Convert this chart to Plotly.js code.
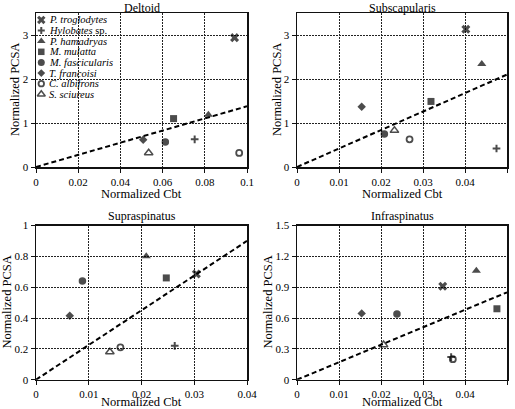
<!DOCTYPE html>
<html>
<head>
<meta charset="utf-8">
<script src="https://cdn.plot.ly/plotly-3.0.1.min.js"></script>
<style>html,body{margin:0;padding:0;background:#fff;}#chart{width:515px;height:409px;}</style>
</head>
<body>
<div id="chart"></div>
<script>
// Species order (same in every panel)
const species = ['P. troglodytes', 'Hylobates sp.', 'P. hamadryas', 'M. mulatta',
                 'M. fascicularis', 'T. francoisi', 'C. albifrons', 'S. sciureus'];
const legendLabels = ['<i>P. troglodytes</i>', '<i>Hylobates</i> sp.', '<i>P. hamadryas</i>', '<i>M. mulatta</i>',
                      '<i>M. fascicularis</i>', '<i>T. francoisi</i>', '<i>C. albifrons</i>', '<i>S. sciureus</i>'];

// Panel titles and axis titles
const panelTitles = ['Deltoid', 'Subscapularis', 'Supraspinatus', 'Infraspinatus'];
const xTitle = 'Normalized Cbt';
const yTitle = 'Normalized PCSA';

// Deltoid
const deltoidCbt  = [0.0941, 0.0752, 0.0817, 0.0652, 0.0613, 0.0508, 0.0963, 0.0534];
const deltoidPCSA = [2.94, 0.63, 1.19, 1.10, 0.57, 0.62, 0.32, 0.32];
const deltoidFitX = [0, 0.1];
const deltoidFitY = [0, 1.38];

// Subscapularis
const subscapCbt  = [0.0402, 0.0475, 0.0440, 0.0319, 0.0208, 0.0154, 0.0268, 0.0232];
const subscapPCSA = [3.13, 0.42, 2.34, 1.49, 0.75, 1.37, 0.63, 0.83];
const subscapFitX = [0, 0.05];
const subscapFitY = [0, 2.10];

// Supraspinatus
const supraCbt  = [0.0304, 0.0263, 0.0209, 0.0247, 0.0088, 0.0064, 0.0160, 0.0140];
const supraPCSA = [0.685, 0.22, 0.80, 0.66, 0.64, 0.415, 0.21, 0.18];
const supraFitX = [0, 0.04];
const supraFitY = [0, 0.90];

// Infraspinatus
const infraCbt  = [0.0347, 0.0367, 0.0427, 0.0476, 0.0238, 0.0154, 0.0371, 0.0206];
const infraPCSA = [0.91, 0.22, 1.06, 0.69, 0.64, 0.645, 0.20, 0.34];
const infraFitX = [0, 0.05];
const infraFitY = [0, 0.85];

// ---- styles ----
const symbols   = ['x', 'cross-thin', 'triangle-up', 'square', 'circle', 'diamond', 'circle-open', 'triangle-up-open'];
const sizes     = [8, 5.5, 8, 7, 7.5, 6.5, 6, 7.5];
const lineWidth = [0, 2, 0, 0, 0, 0, 1.8, 1.5];
const FONT = 'Liberation Serif, serif';

const panels = [
  {x: deltoidCbt, y: deltoidPCSA, fx: deltoidFitX, fy: deltoidFitY, xa: 'x',  ya: 'y'},
  {x: subscapCbt, y: subscapPCSA, fx: subscapFitX, fy: subscapFitY, xa: 'x2', ya: 'y2'},
  {x: supraCbt,   y: supraPCSA,   fx: supraFitX,   fy: supraFitY,   xa: 'x3', ya: 'y3'},
  {x: infraCbt,   y: infraPCSA,   fx: infraFitX,   fy: infraFitY,   xa: 'x4', ya: 'y4'}
];

const traces = [];
panels.forEach(p => {
  traces.push({type: 'scatter', mode: 'lines', x: p.fx, y: p.fy, xaxis: p.xa, yaxis: p.ya,
    line: {color: 'black', width: 2, dash: '5px,3px'}, showlegend: false, hoverinfo: 'skip'});
  traces.push({type: 'scatter', mode: 'markers', x: p.x, y: p.y, xaxis: p.xa, yaxis: p.ya,
    text: species, showlegend: false, cliponaxis: false,
    marker: {symbol: symbols, size: sizes, color: 'black', line: {color: 'black', width: lineWidth}}});
});

// compact legend inside the Deltoid panel (overlay axes in [0,1] units)
const legTop = 0.955, legStep = 0.069;
const legY = species.map((s, i) => legTop - i * legStep);
traces.push({type: 'scatter', mode: 'markers', x: species.map(() => 0.025), y: legY,
  xaxis: 'x5', yaxis: 'y5', showlegend: false, hoverinfo: 'skip', cliponaxis: false,
  marker: {symbol: symbols, size: sizes.map(s => s - 0.5), color: 'black', line: {color: 'black', width: lineWidth}}});

const annotations = legendLabels.map((t, i) => ({
  xref: 'x5', yref: 'y5', x: 0.05, y: legY[i], text: t, showarrow: false,
  xanchor: 'left', yanchor: 'middle', font: {family: FONT, size: 10.5, color: 'black'}
}));

const leftDom = [36/515, 247/515], rightDom = [297/515, 507/515];
const topDom = [1 - 167/409, 1 - 13/409], botDom = [1 - 379.7/409, 1 - 225.5/409];
const doms = [[leftDom, topDom], [rightDom, topDom], [leftDom, botDom], [rightDom, botDom]];
// pixel positions of axis titles (layout only)
const xTitleY = [194, 194, 401.5, 401.5];
const yTitleX = [15, 277, 7, 268];
doms.forEach((d, i) => {
  const cx = (d[0][0] + d[0][1]) / 2;
  const isTop = i < 2;
  annotations.push({xref: 'paper', yref: 'paper', x: cx, y: isTop ? 1 : d[1][1],
    xanchor: 'center', yanchor: isTop ? 'top' : 'bottom', text: panelTitles[i], showarrow: false,
    font: {family: FONT, size: 12, color: 'black'}, borderpad: 0, yshift: isTop ? 0 : 1});
  annotations.push({xref: 'paper', yref: 'paper', x: cx, y: 1 - xTitleY[i] / 409,
    xanchor: 'center', yanchor: 'middle', text: xTitle, showarrow: false, borderpad: 0,
    font: {family: FONT, size: 12.5, color: 'black'}});
  annotations.push({xref: 'paper', yref: 'paper', x: yTitleX[i] / 515, y: (d[1][0] + d[1][1]) / 2,
    xanchor: 'center', yanchor: 'middle', text: yTitle, showarrow: false, textangle: -90, borderpad: 0,
    font: {family: FONT, size: 12.5, color: 'black'}});
});

function ax(domain, range, dtick, anchor) {
  return {
    domain: domain, range: range, dtick: dtick, tick0: 0, autorange: false, anchor: anchor,
    showline: true, mirror: true, linecolor: '#111', linewidth: 1.5,
    showgrid: true, gridcolor: '#222', griddash: '2px,1px', gridwidth: 1, zeroline: false,
    ticks: 'outside', ticklen: 4, tickcolor: '#111', tickwidth: 1,
    tickfont: {family: FONT, size: 11, color: 'black'},
    fixedrange: true
  };
}

const layout = {
  width: 515, height: 409, margin: {l: 0, r: 0, t: 0, b: 0},
  paper_bgcolor: 'white', plot_bgcolor: 'white', showlegend: false,
  font: {family: FONT, color: 'black'},
  xaxis:  ax(leftDom,  [0, 0.1],  0.02, 'y'),
  yaxis:  ax(topDom,   [0, 3.5],  1,    'x'),
  xaxis2: ax(rightDom, [0, 0.05], 0.01, 'y2'),
  yaxis2: ax(topDom,   [0, 3.5],  1,    'x2'),
  xaxis3: ax(leftDom,  [0, 0.04], 0.01, 'y3'),
  yaxis3: ax(botDom,   [0, 1],    0.2,  'x3'),
  xaxis4: ax(rightDom, [0, 0.05], 0.01, 'y4'),
  yaxis4: ax(botDom,   [0, 1.5],  0.3,  'x4'),
  xaxis5: {overlaying: 'x', range: [0, 1], visible: false, fixedrange: true, anchor: 'y5'},
  yaxis5: {overlaying: 'y', range: [0, 1], visible: false, fixedrange: true, anchor: 'x5'},
  annotations: annotations
};

Plotly.newPlot('chart', traces, layout, {displayModeBar: false, staticPlot: true});
</script>
</body>
</html>
